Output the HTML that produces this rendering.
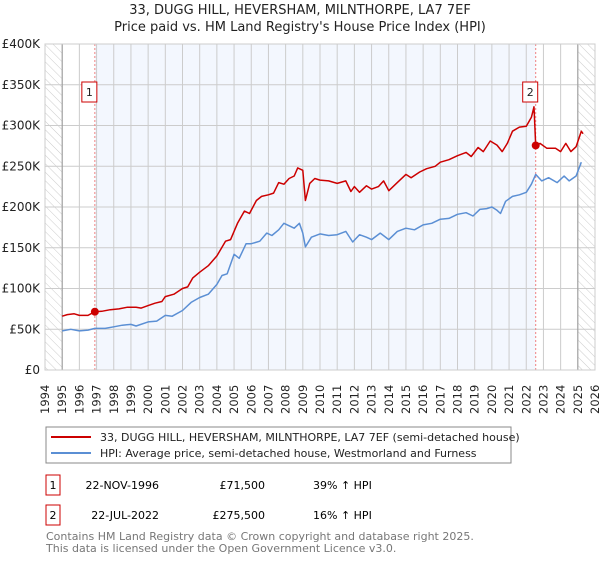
<!DOCTYPE html>
<html><head><meta charset="utf-8"><style>
body{margin:0;background:#fff;font-family:"Liberation Sans","DejaVu Sans",sans-serif;}
svg text{font-family:"DejaVu Sans","Liberation Sans",sans-serif;}
</style></head><body>
<svg id="c" width="600" height="560" viewBox="0 0 600 560">
<defs><pattern id="hatch" width="6" height="6" patternUnits="userSpaceOnUse" patternTransform="rotate(-45)"><line x1="0" y1="0" x2="0" y2="6" stroke="#ccc" stroke-width="1"/></pattern></defs>
<text x="300" y="14" text-anchor="middle" font-size="13" fill="#222">33, DUGG HILL, HEVERSHAM, MILNTHORPE, LA7 7EF</text>
<text x="300" y="31" text-anchor="middle" font-size="13" fill="#222">Price paid vs. HM Land Registry's House Price Index (HPI)</text>
<g id="plot"></g>
<rect x="46" y="427" width="465" height="36" fill="#fff" stroke="#888"/>
<line x1="51" y1="437" x2="91" y2="437" stroke="#cc0000" stroke-width="2"/>
<text x="100" y="441" font-size="11" fill="#222">33, DUGG HILL, HEVERSHAM, MILNTHORPE, LA7 7EF (semi-detached house)</text>
<line x1="51" y1="453" x2="91" y2="453" stroke="#5b8fd4" stroke-width="2"/>
<text x="100" y="457" font-size="11" fill="#222">HPI: Average price, semi-detached house, Westmorland and Furness</text>
<g>
<rect x="46" y="475" width="14" height="20" fill="#fff" stroke="#cc0000"/>
<text x="53" y="489" text-anchor="middle" font-size="11">1</text>
<text x="159" y="489" text-anchor="end" font-size="11">22-NOV-1996</text>
<text x="265" y="489" text-anchor="end" font-size="11">£71,500</text>
<text x="313" y="489" font-size="11">39% ↑ HPI</text></g>
<g>
<rect x="46" y="505" width="14" height="20" fill="#fff" stroke="#cc0000"/>
<text x="53" y="519" text-anchor="middle" font-size="11">2</text>
<text x="159" y="519" text-anchor="end" font-size="11">22-JUL-2022</text>
<text x="265" y="519" text-anchor="end" font-size="11">£275,500</text>
<text x="313" y="519" font-size="11">16% ↑ HPI</text></g>
<text x="46" y="540" font-size="11" fill="#777">Contains HM Land Registry data © Crown copyright and database right 2025.</text>
<text x="46" y="552" font-size="11" fill="#777">This data is licensed under the Open Government Licence v3.0.</text>
</svg>
<script>
const yTicks=[0,50,100,150,200,250,300,350,400];
const yTickLabels=["£0","£50K","£100K","£150K","£200K","£250K","£300K","£350K","£400K"];
const years=[1994,1995,1996,1997,1998,1999,2000,2001,2002,2003,2004,2005,2006,2007,2008,2009,2010,2011,2012,2013,2014,2015,2016,2017,2018,2019,2020,2021,2022,2023,2024,2025,2026];
const priceT=[1995,1995.3,1995.7,1996,1996.5,1996.9,1997.3,1997.8,1998.3,1998.8,1999.3,1999.6,2000,2000.4,2000.8,2001,2001.5,2002,2002.3,2002.6,2003,2003.5,2004,2004.5,2004.8,2005.2,2005.6,2005.9,2006.3,2006.6,2007,2007.3,2007.6,2007.9,2008.2,2008.5,2008.7,2009,2009.15,2009.4,2009.7,2010,2010.5,2011,2011.5,2011.8,2012,2012.3,2012.7,2013,2013.4,2013.7,2014,2014.5,2015,2015.3,2015.8,2016.2,2016.7,2017,2017.5,2018,2018.5,2018.8,2019.2,2019.5,2019.9,2020.3,2020.6,2020.9,2021.2,2021.6,2022,2022.3,2022.45,2022.55,2022.8,2023.2,2023.7,2024,2024.3,2024.6,2024.9,2025.2,2025.3];
const priceV=[66,68,69,67,67,71.5,72,74,75,77,77,76,79,82,84,90,93,100,102,113,120,128,140,158,160,180,195,192,208,213,215,217,230,228,235,238,248,245,208,229,235,233,232,229,232,219,225,218,226,222,225,232,220,230,240,236,243,247,250,255,258,263,267,262,273,268,281,276,268,278,293,298,299,310,323,275.5,278,272,272,268,278,268,274,293,290];
const hpiT=[1995,1995.5,1996,1996.5,1996.9,1997.5,1998,1998.5,1999,1999.3,2000,2000.5,2001,2001.4,2002,2002.5,2003,2003.5,2004,2004.3,2004.6,2005,2005.3,2005.7,2006,2006.5,2006.9,2007.2,2007.6,2007.9,2008.3,2008.5,2008.8,2009,2009.15,2009.5,2010,2010.5,2011,2011.5,2011.9,2012.3,2012.7,2013,2013.5,2014,2014.5,2015,2015.5,2016,2016.5,2017,2017.5,2018,2018.5,2018.9,2019.3,2019.7,2020,2020.3,2020.5,2020.8,2021.2,2021.6,2022,2022.3,2022.55,2022.9,2023.3,2023.8,2024.2,2024.5,2024.9,2025.2];
const hpiV=[48,50,48,49,51,51,53,55,56,54,59,60,67,66,73,83,89,93,105,116,118,142,137,155,155,158,168,165,172,180,176,174,180,168,151,163,167,165,166,170,157,166,163,160,168,160,170,174,172,178,180,185,186,191,193,189,197,198,200,196,192,207,213,215,218,228,240,232,236,230,238,232,238,255];
const sales=[[1996.9,71.5,"1"],[2022.55,275.5,"2"]];
const X0=45,X1=595,Y0=370,Y1=44;
const xs=y=>X0+(y-1994)*(X1-X0)/32;
const ys=v=>Y0-v*(Y0-Y1)/400;
const NS="http://www.w3.org/2000/svg";
const g=document.getElementById('plot');
function mk(t,a,p){const e=document.createElementNS(NS,t);for(const k in a)e.setAttribute(k,a[k]);(p||g).appendChild(e);return e;}
let e;
e=mk('rect',{x:xs(1996.9),y:Y1,width:xs(2022.55)-xs(1996.9),height:Y0-Y1,fill:'#f3f7fe'});


e=mk('rect',{x:X0,y:Y1,width:xs(1995)-X0,height:Y0-Y1,fill:'url(#hatch)'});


e=mk('rect',{x:xs(2025),y:Y1,width:X1-xs(2025),height:Y0-Y1,fill:'url(#hatch)'});


years.forEach(y=>{
 e=mk('line',{x1:xs(y),x2:xs(y),y1:Y1,y2:Y0,stroke:'#ccc'});
 
 
 e=mk('text',{x:0,y:0,transform:`translate(${xs(y)+4},414) rotate(-90)`,'font-size':'11.5',fill:'#222'});
 e.textContent=y;
 
 
});
yTicks.forEach((v,i)=>{
 e=mk('line',{x1:X0,x2:X1,y1:ys(v),y2:ys(v),stroke:'#ccc'});
 
 
 e=mk('text',{x:40,y:ys(v)+4,'text-anchor':'end','font-size':'12',fill:'#222'});
 e.textContent=yTickLabels[i];
 
 
});
e=mk('line',{x1:xs(1995),x2:xs(1995),y1:Y1,y2:Y0,stroke:'#999'});


e=mk('line',{x1:xs(2025),x2:xs(2025),y1:Y1,y2:Y0,stroke:'#999'});


sales.forEach(s=>{
 e=mk('line',{x1:xs(s[0]),x2:xs(s[0]),y1:Y1,y2:Y0,stroke:'#f08080','stroke-dasharray':'2,2'});
 
 
});
function path(T,V,col,name){
 const d=T.map((t,i)=>(i?'L':'M')+xs(t).toFixed(1)+','+ys(V[i]).toFixed(1)).join('');
 e=mk('path',{d:d,fill:'none',stroke:col,'stroke-width':1.5,'stroke-linejoin':'round'});
 
 
}
path(hpiT,hpiV,'#5b8fd4','hpi-line');
path(priceT,priceV,'#cc0000','price-line');
sales.forEach(s=>{
 e=mk('circle',{cx:xs(s[0]),cy:ys(s[1]),r:4,fill:'#cc0000'});
 
 
 const bx=xs(s[0])-9;
 e=mk('rect',{x:bx-4,y:82,width:15,height:20,fill:'#fff',stroke:'#cc0000'});
 
 
 e=mk('text',{x:bx+3.5,y:96,'text-anchor':'middle','font-size':'11',fill:'#222'});
 e.textContent=s[2];
 
 
});
e=mk('rect',{x:X0,y:Y1,width:X1-X0,height:Y0-Y1,fill:'none',stroke:'#ccc'});


</script>
</body></html>
